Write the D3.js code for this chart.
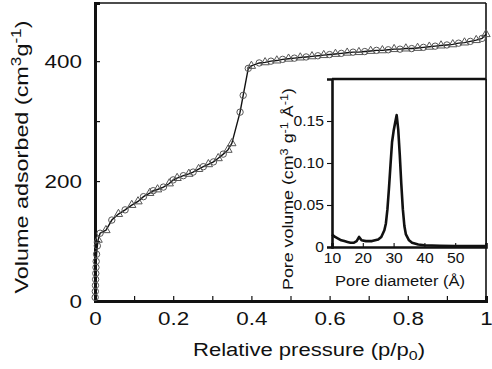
<!DOCTYPE html>
<html><head><meta charset="utf-8">
<script src="https://cdn.jsdelivr.net/npm/d3@7"></script>
<style>
html,body{margin:0;padding:0;background:#fff;}
svg{display:block;}
text{font-family:"Liberation Sans",Arial,Helvetica,sans-serif;fill:#111;}
</style></head>
<body>
<svg id="c" width="492" height="369"></svg>
<script>
// ---- Main isotherm data ----
const adsP = [0.0004,0.0008,0.0012,0.0016,0.002,0.0025,0.003,0.004,0.006,0.013,0.043,0.077,0.124,0.149,0.175,0.2,0.226,0.251,0.277,0.303,0.328,0.371,0.379,0.392,0.42,0.45,0.48,0.51,0.54,0.57,0.60,0.63,0.66,0.69,0.72,0.75,0.78,0.81,0.84,0.87,0.90,0.93,0.96,0.99];
const adsV = [6,16,26,36,46,56,66,78,92,113,135,152,174,184,190,202,209,215,224,232,245,315,343,388,397,400,403,405,407,409,411,413,415,416,418,419,420,421,423,425,427,430,433,438];
const desP = [0.008,0.028,0.06,0.094,0.11,0.14,0.16,0.19,0.21,0.24,0.265,0.29,0.315,0.34,0.35,0.40,0.435,0.465,0.495,0.525,0.555,0.585,0.615,0.645,0.675,0.705,0.735,0.765,0.795,0.825,0.855,0.885,0.915,0.945,0.975,1.0];
const desV = [102,118,145,160,166,180,186,196,205,212,220,228,238,252,263,392,398,401,404,406,408,410,412,414,415,417,418,420,421,422,424,426,428,431,435,445];
const xTicks = [0,0.2,0.4,0.6,0.8,1];
const xTickLabels = ["0","0.2","0.4","0.6","0.8","1"];
const xMinor = [0.1,0.3,0.5,0.7,0.9];
const yTicks = [0,200,400];
const yMinor = [100,300];

// ---- Inset pore size distribution ----
const poreD = [10,11,12,13,14,15,16,17,18,18.8,19.6,21,23,25,26,27,27.5,28,28.5,29,29.5,30,30.5,31,31.5,32,32.5,33,33.5,34,35,36,38,40,45,50,55,60];
const poreV = [0.015,0.012,0.010,0.008,0.007,0.006,0.005,0.005,0.007,0.012,0.008,0.007,0.007,0.009,0.012,0.02,0.028,0.045,0.07,0.098,0.125,0.138,0.148,0.157,0.14,0.11,0.075,0.045,0.025,0.015,0.008,0.005,0.003,0.002,0.0015,0.001,0.001,0.001];
const ixTicks = [10,20,30,40,50];
const iyTicks = [0,0.05,0.10,0.15];
const iyTickLabels = ["0","0.05","0.10","0.15"];

const svg = d3.select("#c");
const x = d3.scaleLinear().domain([0,1]).range([95,486]);
const y = d3.scaleLinear().domain([0,497]).range([301,3]);

function stretch(sel, f){
  sel.each(function(){ const w=this.getComputedTextLength(); d3.select(this).attr("textLength", w*f).attr("lengthAdjust","spacingAndGlyphs"); });
}

// frame top/right
svg.append("line").attr("x1",x(0)).attr("x2",x(1)).attr("y1",y(497)).attr("y2",y(497)).attr("stroke","#111").attr("stroke-width",1.6);
svg.append("line").attr("x1",x(1)).attr("x2",x(1)).attr("y1",y(497)).attr("y2",y(0)).attr("stroke","#111").attr("stroke-width",1.6);

// x axis
const gx = svg.append("g").attr("transform",`translate(0,${y(0)})`)
  .call(d3.axisBottom(x).tickValues(xTicks).tickFormat((d,i)=>xTickLabels[i]).tickSize(-5).tickPadding(11));
gx.append("g").call(d3.axisBottom(x).tickValues(xMinor).tickFormat("").tickSize(-5));
gx.selectAll(".domain").attr("stroke","#111").attr("stroke-width",3);
gx.selectAll(".tick line").attr("stroke","#111").attr("stroke-width",1.2);
gx.selectAll("text").attr("font-size",19).attr("fill","#111");
stretch(gx.selectAll("text"),1.18);

// y axis
const gy = svg.append("g").attr("transform",`translate(${x(0)},0)`)
  .call(d3.axisLeft(y).tickValues(yTicks).tickFormat(d3.format("d")).tickSize(-5).tickPadding(13));
gy.append("g").call(d3.axisLeft(y).tickValues(yMinor).tickFormat("").tickSize(-5));
gy.selectAll(".domain").attr("stroke","#111").attr("stroke-width",3);
gy.selectAll(".tick line").attr("stroke","#111").attr("stroke-width",1.2);
gy.selectAll("text").attr("font-size",19).attr("fill","#111");
stretch(gy.selectAll("text"),1.18);

// isotherm line (combined, sorted)
const all = adsP.map((p,i)=>[p,adsV[i]]).concat(desP.map((p,i)=>[p,desV[i]])).sort((a,b)=>a[0]-b[0]);
svg.append("path").datum([[0,0]].concat(all)).attr("fill","none").attr("stroke","#111").attr("stroke-width",1.4)
  .attr("d",d3.line().x(d=>x(d[0])).y(d=>y(d[1])));
// markers
svg.append("g").selectAll("circle").data(adsP).join("circle")
  .attr("cx",d=>x(d)).attr("cy",(d,i)=>y(adsV[i])).attr("r",3.2)
  .attr("fill","none").attr("stroke","#555").attr("stroke-width",1);
const tri = d3.symbol().type(d3.symbolTriangle).size(30);
svg.append("g").selectAll("path").data(desP).join("path")
  .attr("transform",(d,i)=>`translate(${x(d)},${y(desV[i])})`).attr("d",tri)
  .attr("fill","none").attr("stroke","#555").attr("stroke-width",1);

// main axis titles
svg.append("text").attr("x",309).attr("y",356).attr("text-anchor","middle").attr("font-size",18)
  .attr("textLength",232).attr("lengthAdjust","spacingAndGlyphs")
  .html('Relative pressure (p/p<tspan dy="4" font-size="13">0</tspan><tspan dy="-4">)</tspan>');
svg.append("text").attr("transform","translate(28,157) rotate(-90)").attr("text-anchor","middle").attr("font-size",19)
  .attr("textLength",273).attr("lengthAdjust","spacingAndGlyphs")
  .html('Volume adsorbed (cm<tspan dy="-7" font-size="14">3</tspan><tspan dy="7">g</tspan><tspan dy="-7" font-size="14">-1</tspan><tspan dy="7">)</tspan>');

// ---- Inset ----
const xi = d3.scaleLinear().domain([10,60]).range([332,486]);
const yi = d3.scaleLinear().domain([0,0.2]).range([247,79]);
svg.append("rect").attr("x",xi(10)).attr("y",yi(0.2)).attr("width",xi(60)-xi(10)).attr("height",yi(0)-yi(0.2)).attr("fill","#fff");
svg.append("line").attr("x1",xi(10)).attr("x2",xi(60)).attr("y1",yi(0.2)).attr("y2",yi(0.2)).attr("stroke","#111").attr("stroke-width",2.4);
svg.append("line").attr("x1",xi(60)).attr("x2",xi(60)).attr("y1",yi(0.2)).attr("y2",yi(0)).attr("stroke","#111").attr("stroke-width",1.6);
const gix = svg.append("g").attr("transform",`translate(0,${yi(0)})`)
  .call(d3.axisBottom(xi).tickValues(ixTicks).tickFormat(d3.format("d")).tickSize(-4).tickPadding(6));
gix.selectAll(".domain").attr("stroke","#111").attr("stroke-width",2.6);
gix.selectAll(".tick line").attr("stroke","#111").attr("stroke-width",1.1);
gix.selectAll("text").attr("font-size",14).attr("fill","#111");
stretch(gix.selectAll("text"),1.12);
const giy = svg.append("g").attr("transform",`translate(${xi(10)},0)`)
  .call(d3.axisLeft(yi).tickValues(iyTicks).tickFormat((d,i)=>iyTickLabels[i]).tickSize(5).tickPadding(3));
giy.selectAll(".domain").attr("stroke","#111").attr("stroke-width",2.6);
giy.selectAll(".tick line").attr("stroke","#111").attr("stroke-width",1.1);
giy.selectAll("text").attr("font-size",14).attr("fill","#111");
stretch(giy.selectAll("text"),1.12);

svg.append("path").datum(poreD.map((d,i)=>[d,poreV[i]])).attr("fill","none").attr("stroke","#111").attr("stroke-width",2.6)
  .attr("stroke-linejoin","round")
  .attr("d",d3.line().x(d=>xi(d[0])).y(d=>yi(d[1])));

svg.append("text").attr("x",400).attr("y",286).attr("text-anchor","middle").attr("font-size",14)
  .attr("textLength",130).attr("lengthAdjust","spacingAndGlyphs").text("Pore diameter (Å)");
svg.append("text").attr("transform","translate(293,189) rotate(-90)").attr("text-anchor","middle").attr("font-size",14)
  .attr("textLength",202).attr("lengthAdjust","spacingAndGlyphs")
  .html('Pore volume (cm<tspan dy="-5" font-size="10">3</tspan><tspan dy="5"> g</tspan><tspan dy="-5" font-size="10">-1</tspan><tspan dy="5"> Å</tspan><tspan dy="-5" font-size="10">-1</tspan><tspan dy="5">)</tspan>');
</script>
</body></html>
